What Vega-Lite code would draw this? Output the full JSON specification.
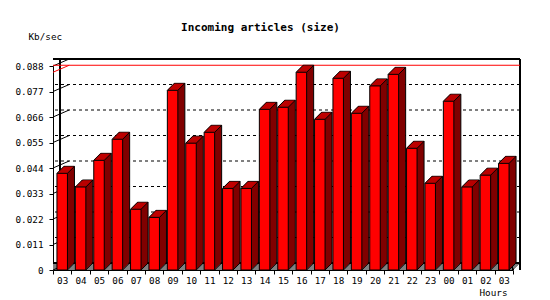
{
  "$schema": "https://vega.github.io/schema/vega-lite/v6.json",
  "autosize": {"type": "none"},
  "padding": {"left": 53, "top": 66, "right": 37, "bottom": 30},
  "width": 460,
  "height": 204,
  "background": "white",
  "config": {
    "view": {"stroke": null},
    "font": "DejaVu Sans Mono",
    "axis": {"labelFont": "DejaVu Sans Mono", "labelFontSize": 9.3, "labelColor": "black", "titleFont": "DejaVu Sans Mono", "titleFontSize": 9.3, "titleFontWeight": "normal", "titleColor": "black", "domainColor": "black", "tickColor": "black", "grid": false}
  },
  "title": {"text": "Incoming articles (size)", "font": "DejaVu Sans Mono", "fontSize": 11, "fontWeight": "bold", "color": "black", "anchor": "middle", "frame": "group", "dx": -22.5, "baseline": "alphabetic", "offset": -9},
  "datasets": {
    "bars": [
      {"hour": "03", "kbps": 0.0417}, {"hour": "04", "kbps": 0.0358}, {"hour": "05", "kbps": 0.0473}, {"hour": "06", "kbps": 0.0564},
      {"hour": "07", "kbps": 0.0262}, {"hour": "08", "kbps": 0.0227}, {"hour": "09", "kbps": 0.0775}, {"hour": "10", "kbps": 0.0547},
      {"hour": "11", "kbps": 0.0594}, {"hour": "12", "kbps": 0.0352}, {"hour": "13", "kbps": 0.0352}, {"hour": "14", "kbps": 0.0693},
      {"hour": "15", "kbps": 0.0702}, {"hour": "16", "kbps": 0.0853}, {"hour": "17", "kbps": 0.0650}, {"hour": "18", "kbps": 0.0827},
      {"hour": "19", "kbps": 0.0676}, {"hour": "20", "kbps": 0.0794}, {"hour": "21", "kbps": 0.0844}, {"hour": "22", "kbps": 0.0525},
      {"hour": "23", "kbps": 0.0374}, {"hour": "00", "kbps": 0.0728}, {"hour": "01", "kbps": 0.0358}, {"hour": "02", "kbps": 0.0409},
      {"hour": "03+", "kbps": 0.0460}
    ],
    "ticks": [
      {"v": 0}, {"v": 0.011}, {"v": 0.022}, {"v": 0.033}, {"v": 0.044}, {"v": 0.055}, {"v": 0.066}, {"v": 0.077}, {"v": 0.088}
    ],
    "grid": [
      {"v": 0.011}, {"v": 0.022}, {"v": 0.033}, {"v": 0.044}, {"v": 0.055}, {"v": 0.066}, {"v": 0.077}
    ]
  },
  "data": {"name": "bars"},
  "resolve": {"scale": {"x": "shared", "y": "shared"}, "axis": {"x": "independent", "y": "independent"}},
  "layer": [
    {"mark": {"type": "rule", "color": "#808080", "strokeWidth": 1.3, "xOffset": 1, "x2Offset": 1, "yOffset": -1}, "encoding": {"y": {"datum": 0, "type": "quantitative", "axis": null}}},
    {"mark": {"type": "rule", "color": "#808080", "strokeWidth": 1.3, "xOffset": 2, "x2Offset": 2, "yOffset": -2}, "encoding": {"y": {"datum": 0, "type": "quantitative", "axis": null}}},
    {"mark": {"type": "rule", "color": "#808080", "strokeWidth": 1.3, "xOffset": 3, "x2Offset": 3, "yOffset": -3}, "encoding": {"y": {"datum": 0, "type": "quantitative", "axis": null}}},
    {"mark": {"type": "rule", "color": "#808080", "strokeWidth": 1.3, "xOffset": 4, "x2Offset": 4, "yOffset": -4}, "encoding": {"y": {"datum": 0, "type": "quantitative", "axis": null}}},
    {"mark": {"type": "rule", "color": "#808080", "strokeWidth": 1.3, "xOffset": 5, "x2Offset": 5, "yOffset": -5}, "encoding": {"y": {"datum": 0, "type": "quantitative", "axis": null}}},
    {"mark": {"type": "rule", "color": "#808080", "strokeWidth": 1.3, "xOffset": 6, "x2Offset": 6, "yOffset": -6}, "encoding": {"y": {"datum": 0, "type": "quantitative", "axis": null}}},
    {"data": {"name": "grid"}, "mark": {"type": "rule", "color": "black", "strokeWidth": 1, "strokeDash": [3, 3], "xOffset": 7, "x2Offset": 7, "yOffset": -7}, "encoding": {"y": {"field": "v", "type": "quantitative", "axis": null}}},
    {"mark": {"type": "rule", "color": "black", "strokeWidth": 1, "xOffset": 7, "x2Offset": 7, "yOffset": -7}, "encoding": {"y": {"datum": 0, "type": "quantitative", "axis": null}}},
    {"mark": {"type": "rule", "color": "black", "strokeWidth": 1, "xOffset": 7, "x2Offset": 7, "yOffset": -7}, "encoding": {"y": {"datum": 0.088, "type": "quantitative", "axis": null}}},
    {"mark": {"type": "rule", "color": "black", "strokeWidth": 1, "xOffset": 7, "yOffset": -7, "y2Offset": -7}, "encoding": {"x": {"datum": "03", "type": "nominal", "bandPosition": 0, "axis": null}}},
    {"mark": {"type": "rule", "color": "black", "strokeWidth": 1, "xOffset": 7, "yOffset": -7, "y2Offset": -7}, "encoding": {"x": {"datum": "03+", "type": "nominal", "bandPosition": 1, "axis": null}}},
    {"data": {"name": "ticks"}, "mark": {"type": "rule", "color": "black", "strokeWidth": 1, "x2Offset": 7, "y2Offset": -7}, "encoding": {
      "x": {"datum": "03", "type": "nominal", "bandPosition": 0, "axis": null},
      "x2": {"datum": "03"},
      "y": {"field": "v", "type": "quantitative", "axis": null},
      "y2": {"field": "v"}}},
    {"mark": {"type": "rule", "color": "black", "strokeWidth": 1, "x2Offset": 7, "y2Offset": -7}, "encoding": {
      "x": {"datum": "03+", "type": "nominal", "bandPosition": 1, "axis": null},
      "x2": {"datum": "03+"},
      "y": {"datum": 0, "type": "quantitative", "axis": null},
      "y2": {"datum": 0}}},
    {"mark": {"type": "rule", "color": "#ff0000", "strokeWidth": 1, "xOffset": 7, "x2Offset": 7, "yOffset": -7}, "encoding": {"y": {"aggregate": "max", "field": "kbps", "type": "quantitative", "axis": null}}},
    {"mark": {"type": "rule", "color": "#ff0000", "strokeWidth": 1, "x2Offset": 7, "y2Offset": -7}, "encoding": {
      "x": {"datum": "03", "type": "nominal", "bandPosition": 0, "axis": null},
      "x2": {"datum": "03"},
      "y": {"aggregate": "max", "field": "kbps", "type": "quantitative", "axis": null},
      "y2": {"aggregate": "max", "field": "kbps"}}},
    {"mark": {"type": "bar", "color": "#800000", "width": 10.5, "stroke": "black", "strokeWidth": 1, "xOffset": 7, "yOffset": -7, "y2Offset": -7}, "encoding": {"x": {"field": "hour", "type": "nominal", "axis": null}, "y": {"field": "kbps", "type": "quantitative", "axis": null}}},
    {"mark": {"type": "bar", "color": "#800000", "width": 10.5, "xOffset": 6, "yOffset": -6, "y2Offset": -6}, "encoding": {"x": {"field": "hour", "type": "nominal", "axis": null}, "y": {"field": "kbps", "type": "quantitative", "axis": null}}},
    {"mark": {"type": "bar", "color": "#800000", "width": 10.5, "xOffset": 5, "yOffset": -5, "y2Offset": -5}, "encoding": {"x": {"field": "hour", "type": "nominal", "axis": null}, "y": {"field": "kbps", "type": "quantitative", "axis": null}}},
    {"mark": {"type": "bar", "color": "#800000", "width": 10.5, "xOffset": 4, "yOffset": -4, "y2Offset": -4}, "encoding": {"x": {"field": "hour", "type": "nominal", "axis": null}, "y": {"field": "kbps", "type": "quantitative", "axis": null}}},
    {"mark": {"type": "bar", "color": "#800000", "width": 10.5, "xOffset": 3, "yOffset": -3, "y2Offset": -3}, "encoding": {"x": {"field": "hour", "type": "nominal", "axis": null}, "y": {"field": "kbps", "type": "quantitative", "axis": null}}},
    {"mark": {"type": "bar", "color": "#800000", "width": 10.5, "xOffset": 2, "yOffset": -2, "y2Offset": -2}, "encoding": {"x": {"field": "hour", "type": "nominal", "axis": null}, "y": {"field": "kbps", "type": "quantitative", "axis": null}}},
    {"mark": {"type": "bar", "color": "#800000", "width": 10.5, "xOffset": 1, "yOffset": -1, "y2Offset": -1}, "encoding": {"x": {"field": "hour", "type": "nominal", "axis": null}, "y": {"field": "kbps", "type": "quantitative", "axis": null}}},
    {"mark": {"type": "tick", "color": "#c00000", "size": 10.5, "thickness": 1.3, "orient": "horizontal", "opacity": 1, "xOffset": 1, "yOffset": -1}, "encoding": {"x": {"field": "hour", "type": "nominal", "axis": null}, "y": {"field": "kbps", "type": "quantitative", "axis": null}}},
    {"mark": {"type": "tick", "color": "#c00000", "size": 10.5, "thickness": 1.3, "orient": "horizontal", "opacity": 1, "xOffset": 2, "yOffset": -2}, "encoding": {"x": {"field": "hour", "type": "nominal", "axis": null}, "y": {"field": "kbps", "type": "quantitative", "axis": null}}},
    {"mark": {"type": "tick", "color": "#c00000", "size": 10.5, "thickness": 1.3, "orient": "horizontal", "opacity": 1, "xOffset": 3, "yOffset": -3}, "encoding": {"x": {"field": "hour", "type": "nominal", "axis": null}, "y": {"field": "kbps", "type": "quantitative", "axis": null}}},
    {"mark": {"type": "tick", "color": "#c00000", "size": 10.5, "thickness": 1.3, "orient": "horizontal", "opacity": 1, "xOffset": 4, "yOffset": -4}, "encoding": {"x": {"field": "hour", "type": "nominal", "axis": null}, "y": {"field": "kbps", "type": "quantitative", "axis": null}}},
    {"mark": {"type": "tick", "color": "#c00000", "size": 10.5, "thickness": 1.3, "orient": "horizontal", "opacity": 1, "xOffset": 5, "yOffset": -5}, "encoding": {"x": {"field": "hour", "type": "nominal", "axis": null}, "y": {"field": "kbps", "type": "quantitative", "axis": null}}},
    {"mark": {"type": "tick", "color": "#c00000", "size": 10.5, "thickness": 1.3, "orient": "horizontal", "opacity": 1, "xOffset": 6, "yOffset": -6}, "encoding": {"x": {"field": "hour", "type": "nominal", "axis": null}, "y": {"field": "kbps", "type": "quantitative", "axis": null}}},
    {"mark": {"type": "rule", "color": "black", "strokeWidth": 1, "xOffset": -5.25, "x2Offset": 1.75, "y2Offset": -7}, "encoding": {"x": {"field": "hour", "type": "nominal", "bandPosition": 0.5, "axis": null}, "x2": {"field": "hour"}, "y": {"field": "kbps", "type": "quantitative", "axis": null}, "y2": {"field": "kbps"}}},
    {"mark": {"type": "rule", "color": "black", "strokeWidth": 1, "xOffset": 5.25, "x2Offset": 12.25, "y2Offset": -7}, "encoding": {"x": {"field": "hour", "type": "nominal", "bandPosition": 0.5, "axis": null}, "x2": {"field": "hour"}, "y": {"field": "kbps", "type": "quantitative", "axis": null}, "y2": {"field": "kbps"}}},
    {"mark": {"type": "rule", "color": "black", "strokeWidth": 1, "xOffset": 5.25, "x2Offset": 12.25, "y2Offset": -7}, "encoding": {"x": {"field": "hour", "type": "nominal", "bandPosition": 0.5, "axis": null}, "x2": {"field": "hour"}, "y": {"datum": 0, "type": "quantitative", "axis": null}, "y2": {"datum": 0}}},
    {"mark": {"type": "bar", "color": "#ff0000", "width": 10.5, "stroke": "black", "strokeWidth": 1},
     "encoding": {
      "x": {"field": "hour", "type": "nominal", "sort": null,
        "scale": {"domain": ["03","04","05","06","07","08","09","10","11","12","13","14","15","16","17","18","19","20","21","22","23","00","01","02","03+"], "paddingInner": 0, "paddingOuter": 0},
        "axis": {"title": "Hours", "titleX": 454, "titleY": 22.5, "titleAlign": "right", "titleBaseline": "middle", "labelAngle": 0, "tickBand": "extent", "tickSize": 4, "labelPadding": 2, "labelExpr": "substring(datum.label, 0, 2)", "domainWidth": 1}},
      "y": {"field": "kbps", "type": "quantitative",
        "scale": {"domain": [0, 0.088], "nice": false, "zero": true},
        "axis": {"title": "Kb/sec", "titleAngle": 0, "titleX": -25, "titleY": -29.3, "titleAlign": "left", "titleBaseline": "middle", "values": [0, 0.011, 0.022, 0.033, 0.044, 0.055, 0.066, 0.077, 0.088], "labelExpr": "datum.value == 0 ? '0' : format(datum.value, '.3f')", "tickSize": 4, "labelPadding": 6, "labelFlush": false, "labelOverlap": false}}
     }}
  ]
}
